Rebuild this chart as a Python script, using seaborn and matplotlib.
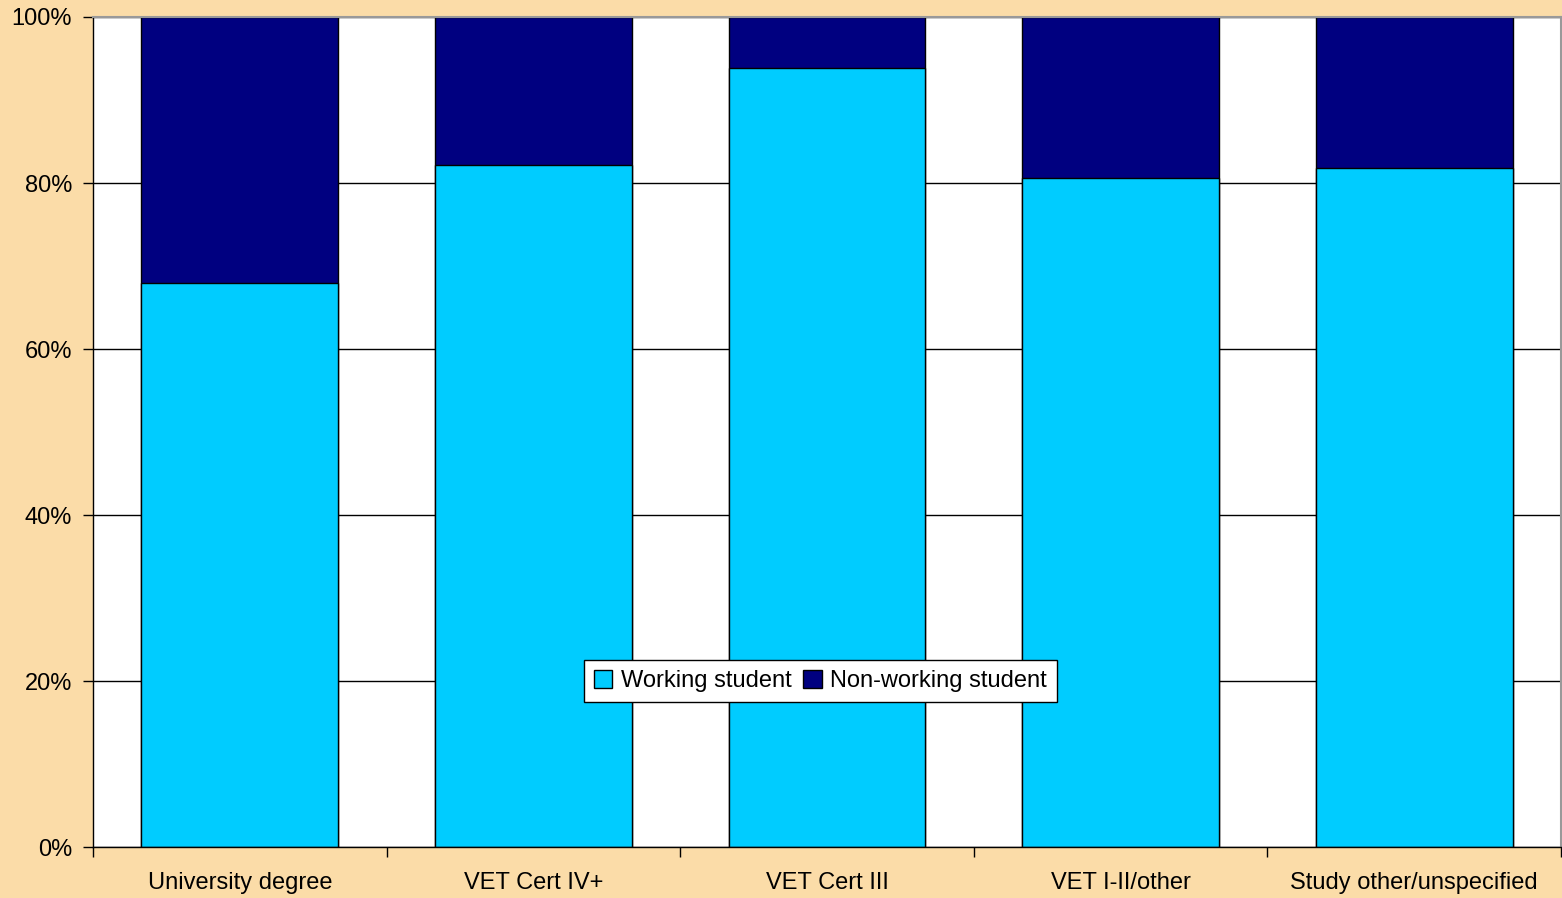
import matplotlib
matplotlib.use("Agg")
import matplotlib.pyplot as plt
import seaborn as sns
import pandas as pd
import numpy as np
from matplotlib.ticker import FixedLocator, PercentFormatter
from matplotlib.patches import Patch

categories = ["University degree", "VET Cert IV+", "VET Cert III", "VET I-II/other", "Study other/unspecified"]
working = [68.0, 82.2, 93.8, 80.6, 81.8]
non_working = [100 - w for w in working]

sns.set_theme(style="white")
plt.rcParams['font.family'] = ['Liberation Sans', 'DejaVu Sans']
plt.rcParams['text.color'] = 'black'
plt.rcParams['xtick.color'] = 'black'
plt.rcParams['ytick.color'] = 'black'

BG = "#FBDCA8"
CYAN = "#00CCFF"
NAVY = "#000080"
FS = 17

fig = plt.figure(figsize=(15.62, 8.98), dpi=100, facecolor=BG)
ax = fig.add_axes([93/1562, 1 - 847/898, 1468/1562, 830/898])
ax.set_facecolor("white")

df = pd.DataFrame({"cat": categories, "working": working,
                   "total": [w + n for w, n in zip(working, non_working)]})

sns.barplot(data=df, x="cat", y="total", color=NAVY, saturation=1, width=0.67,
            edgecolor="black", linewidth=1.0, ax=ax, zorder=3)
sns.barplot(data=df, x="cat", y="working", color=CYAN, saturation=1, width=0.67,
            edgecolor="black", linewidth=1.0, ax=ax, zorder=4)

ax.set_xlim(-0.5, len(categories) - 0.5)
ax.set_ylim(0, 100)
ax.set_xlabel("")
ax.set_ylabel("")

ax.yaxis.set_major_locator(FixedLocator([0, 20, 40, 60, 80, 100]))
ax.yaxis.set_major_formatter(PercentFormatter(decimals=0))
ax.grid(axis="y", color="black", linewidth=1.0, zorder=0)
ax.set_axisbelow(True)

ax.set_xticks(np.arange(len(categories)))
ax.set_xticklabels(categories, fontsize=FS, color="black")
ax.tick_params(axis="x", which="major", length=0, pad=18)
ax.set_xticks(np.arange(-0.5, len(categories)), minor=True)
ax.tick_params(axis="x", which="minor", length=7, width=1, color="black", direction="out", bottom=True)
ax.tick_params(axis="y", labelsize=FS, labelcolor="black", length=7, width=1, color="black",
               direction="out", left=True, pad=8)

for side in ["top", "right"]:
    ax.spines[side].set_color("#999999")
    ax.spines[side].set_linewidth(1.5)
for side in ["left", "bottom"]:
    ax.spines[side].set_color("black")
    ax.spines[side].set_linewidth(1.0)
for s in ax.spines.values():
    s.set_zorder(6)

handles = [Patch(facecolor=CYAN, edgecolor="black", label="Working student"),
           Patch(facecolor=NAVY, edgecolor="black", label="Non-working student")]
leg = ax.legend(handles=handles, loc="center", bbox_to_anchor=(0.4955, 0.2), ncol=2,
                fontsize=FS, frameon=True, fancybox=False, framealpha=1.0,
                handlelength=0.8, handleheight=0.8,
                handletextpad=0.35, columnspacing=0.5, borderpad=0.4, borderaxespad=0,
                edgecolor="black", labelcolor="black")
leg.get_frame().set_linewidth(1.0)
leg.get_frame().set_facecolor("white")
leg.set_zorder(10)

fig.savefig("out.png", dpi=100, facecolor=BG)
